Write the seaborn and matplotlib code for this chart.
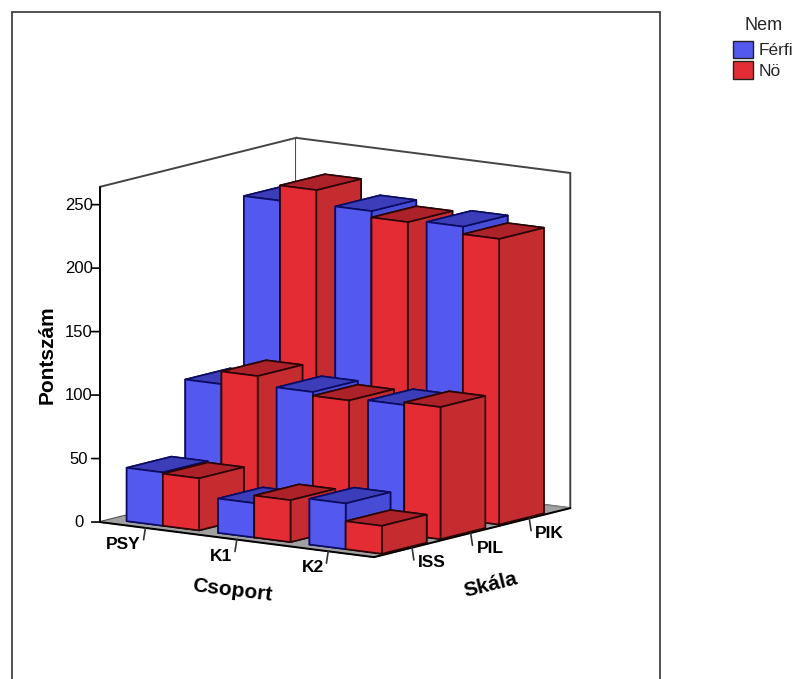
import numpy as np
import pandas as pd
import matplotlib
matplotlib.use('Agg')
import matplotlib.pyplot as plt
from matplotlib.patches import Patch, Rectangle
import seaborn as sns

###############################################################
# values
csoport = ['PSY', 'K1', 'K2']
skala = ['ISS', 'PIL', 'PIK']
nem = ['Férfi', 'Nö']

ferfi_iss = [42, 27, 36]
ferfi_pil = [100, 103, 102]
ferfi_pik = [233, 234, 231]
no_iss = [41, 33, 22]
no_pil = [110, 100, 104]
no_pik = [245, 229, 225]

z_ticks = [0, 50, 100, 150, 200, 250]

rows = []
for s, f_vals, n_vals in zip(skala, [ferfi_iss, ferfi_pil, ferfi_pik], [no_iss, no_pil, no_pik]):
    for c, f, n in zip(csoport, f_vals, n_vals):
        rows.append({'Skala': s, 'Csoport': c, 'Nem': nem[0], 'Pont': f})
        rows.append({'Skala': s, 'Csoport': c, 'Nem': nem[1], 'Pont': n})
df = pd.DataFrame(rows)

###############################################################
sns.set_theme(style='white')
plt.rcParams['font.family'] = ['Liberation Sans', 'DejaVu Sans']

# front, top, side colours for each sex
front = sns.color_palette(['#5358ee', '#e42c34'])
top = sns.color_palette(['#3b3eb8', '#ad2229'])
side = sns.color_palette(['#474cd6', '#c42c30'])
edges = ['#0b0b60', '#2a0505']

fig = plt.figure(figsize=(7.96, 6.79), dpi=100, facecolor='white')
fig.add_artist(Rectangle((12 / 796, -0.02), 648 / 796, 1.02 - 12 / 679, transform=fig.transFigure,
                         fill=False, edgecolor='#333333', linewidth=1.2))

ax = fig.add_axes([42.8 / 796, 39.3 / 679, 569 / 796, 569 / 679], projection='3d', computed_zorder=False)
ax.patch.set_alpha(0)
ax.set_proj_type('ortho')
ax.view_init(elev=10.3, azim=-54.4)
ax.set_box_aspect((1, 1, 1.01))

# back to front so that the nearer bars cover the others
bar_w = 0.396
bar_d = 0.764
order = 1
for j, s in enumerate(skala[::-1]):
    j_pos = len(skala) - 1 - j
    for i, c in enumerate(csoport):
        for g, n in enumerate(nem):
            val = df[(df.Skala == s) & (df.Csoport == c) & (df.Nem == n)].Pont.iloc[0]
            cols = [side[g], top[g], front[g], side[g], side[g], side[g]]
            ax.bar3d(i + 0.168 + g * bar_w, j_pos + 0.198, 0, bar_w, bar_d, val, color=cols,
                     shade=False, edgecolor=edges[g], linewidth=1.2, zorder=order)
            order += 1

x_pos = np.arange(len(csoport)) + 0.5
y_pos = np.arange(len(skala)) + 0.65

# tick marks by hand, mplot3d can only point them along the floor
for x in x_pos:
    ax.plot([x, x - 0.02], [0, 0], [0, -9.5], color='#333333', linewidth=1.2, zorder=0)
for y in y_pos:
    ax.plot([3, 3.02], [y, y], [0, -9.5], color='#333333', linewidth=1.2, zorder=0)
for z in z_ticks:
    ax.plot([0, -0.059], [0, -0.045], [z, z], color='black', linewidth=1.2, zorder=0)

ax.set_xlim(0, 3)
ax.set_ylim(0, 3.35)
ax.set_zlim(0, 264)
ax.set_xticks(x_pos)
ax.set_xticklabels(csoport, fontweight='bold', fontsize=12.5, color='black', ha='right')
ax.set_yticks(y_pos)
ax.set_yticklabels(skala, fontweight='bold', fontsize=12.5, color='black', ha='left')
ax.set_zticks(z_ticks)
ax.set_zticklabels([str(z) for z in z_ticks], fontsize=12, color='black', va='center')
ax.zaxis.set_ticks_position('lower')
ax.grid(False)

ax.xaxis.set_pane_color((1, 1, 1, 1))
ax.yaxis.set_pane_color((1, 1, 1, 1))
ax.zaxis.set_pane_color((0.63, 0.63, 0.63, 1))
ax.xaxis.pane.set_edgecolor('#444444')
ax.yaxis.pane.set_edgecolor('#444444')
ax.zaxis.pane.set_edgecolor('#888888')
ax.xaxis.pane.set_linewidth(1.4)
ax.yaxis.pane.set_linewidth(1.4)

for axis in [ax.xaxis, ax.yaxis, ax.zaxis]:
    axis.line.set_color('black')
    axis.line.set_linewidth(1.4)
    axis._axinfo['tick']['inward_factor'] = 0
    axis._axinfo['tick']['outward_factor'] = 0

ax.tick_params(axis='x', pad=-3)
ax.tick_params(axis='y', pad=-3.5)
ax.tick_params(axis='z', pad=1.5)

fig.text(232 / 796, 1 - 590 / 679, 'Csoport', fontweight='bold', fontsize=15, rotation=-7,
         ha='center', va='center', color='black')
fig.text(491 / 796, 1 - 585 / 679, 'Skála', fontweight='bold', fontsize=15, rotation=14,
         ha='center', va='center', color='black')
fig.text(47 / 796, 1 - 355 / 679, 'Pontszám', fontweight='bold', fontsize=15, rotation=90,
         ha='center', va='center', color='black')

handles = [Patch(facecolor=front[g], edgecolor='#222222', label=nem[g]) for g in range(2)]
leg = fig.legend(handles=handles, title='Nem', loc='upper left', bbox_to_anchor=(733 / 796, 1 - 17 / 679),
                 frameon=False, fontsize=12.5, title_fontsize=13, handlelength=1.15, handleheight=1.15,
                 handletextpad=0.35, labelspacing=0.17, borderpad=0, borderaxespad=0)
leg._legend_box.sep = 5

fig.savefig('out.png', dpi=100, facecolor='white')
